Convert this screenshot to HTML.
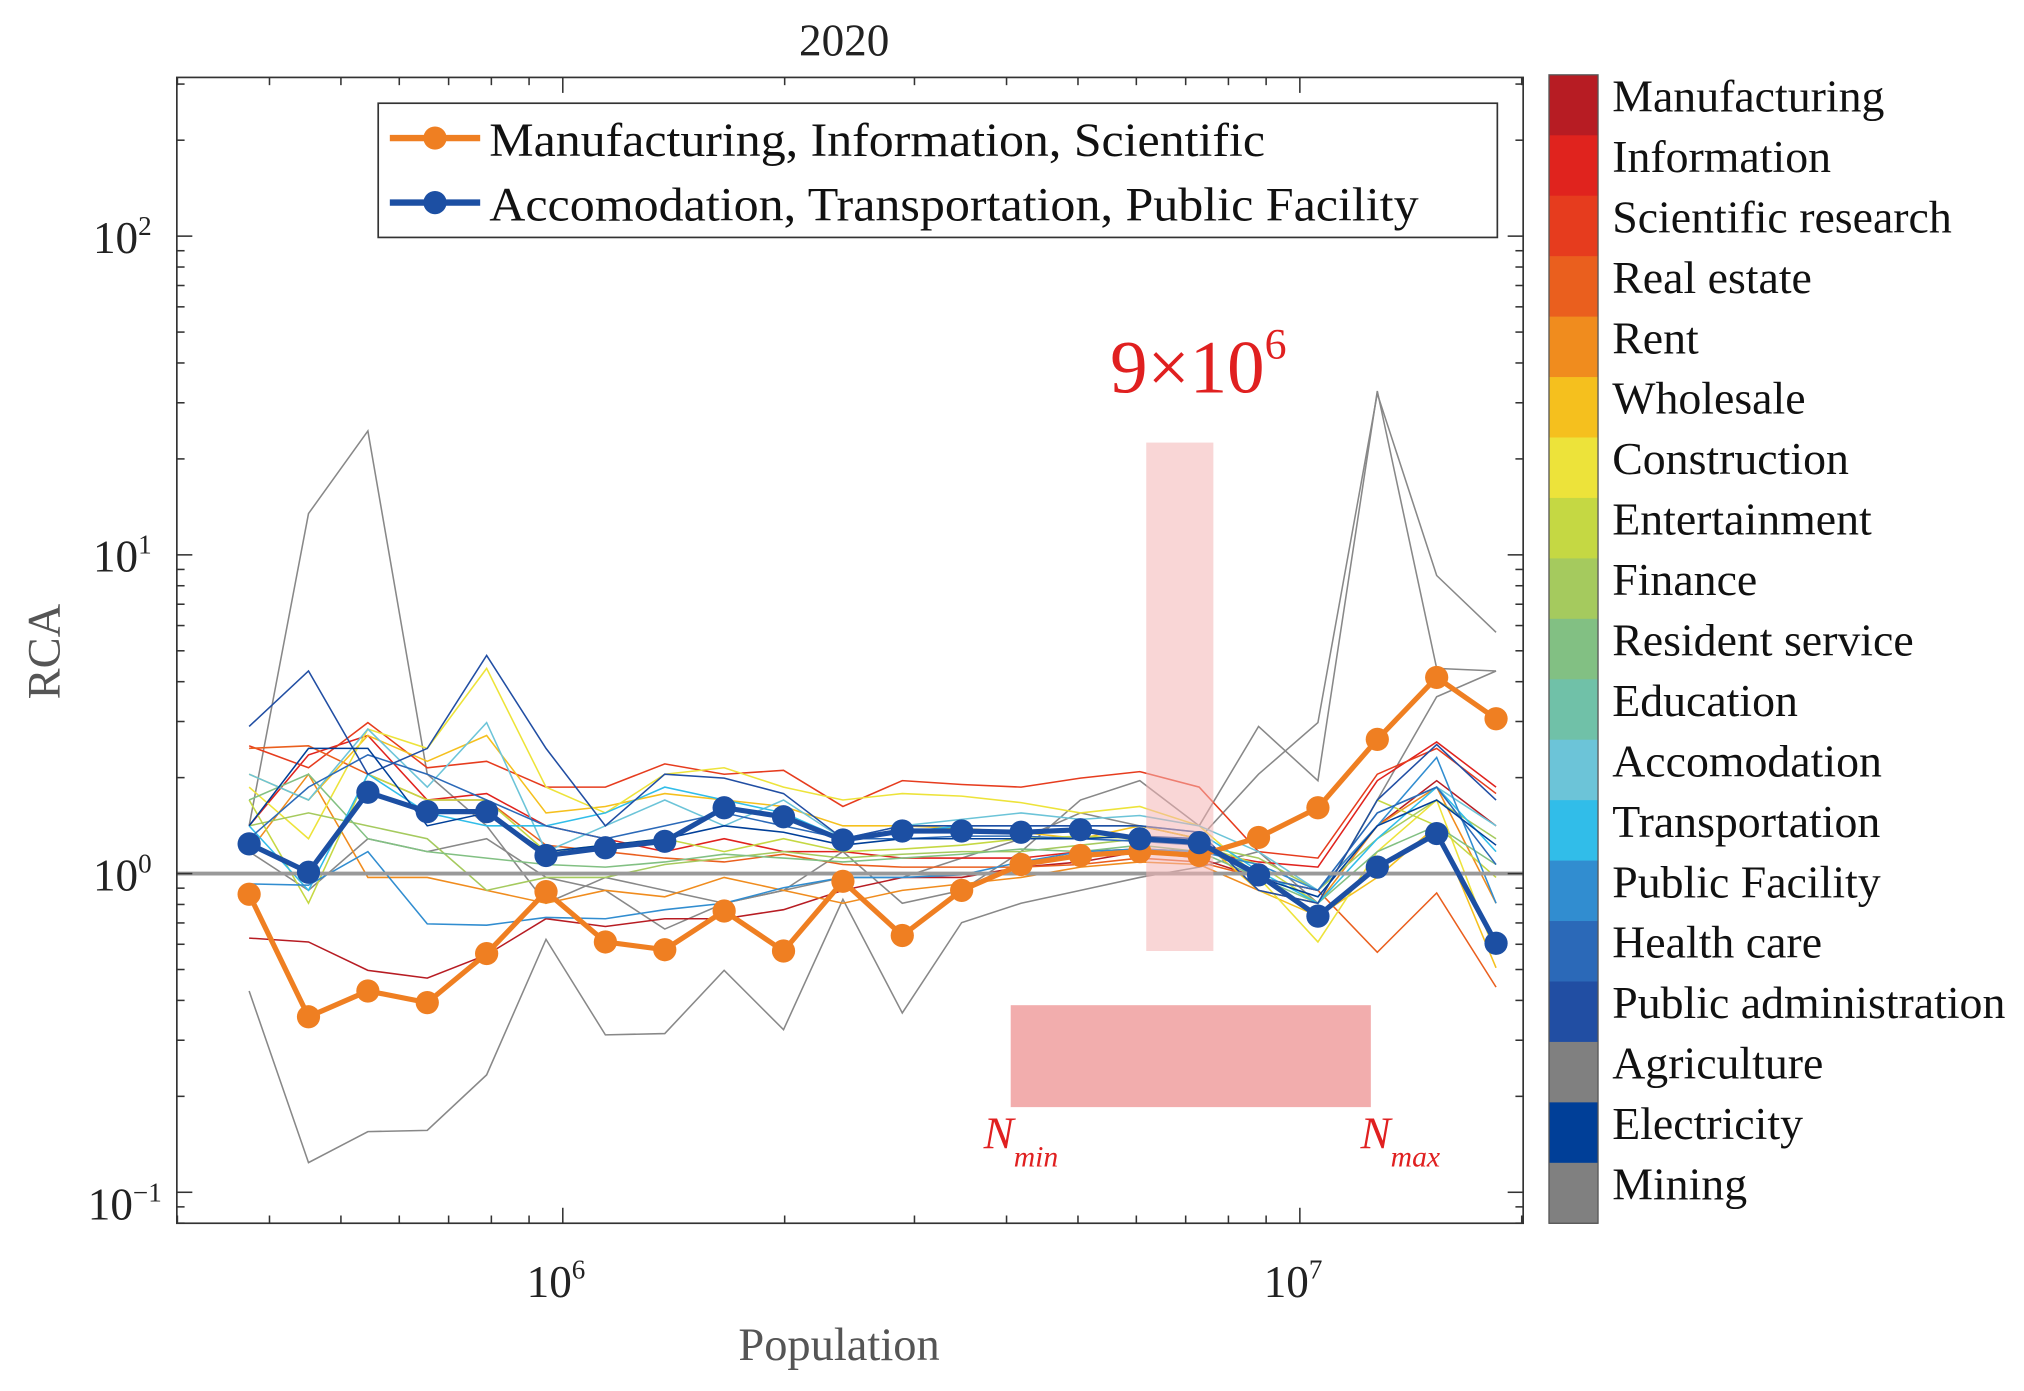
<!DOCTYPE html>
<html><head><meta charset="utf-8"><style>html,body{margin:0;padding:0;background:#fff}svg{display:block}</style></head>
<body>
<svg id="s" width="2024" height="1391" viewBox="0 0 1568 1078" preserveAspectRatio="none" xmlns="http://www.w3.org/2000/svg" font-family="Liberation Serif, serif">
<rect width="1568" height="1078" fill="#fff"/>
<g id="thin" fill="none" stroke-width="1.2"></g>
<line x1="137" y1="677" x2="1180" y2="677" stroke="#999" stroke-width="3"/>
<rect x="888" y="343" width="52" height="394" fill="#f4b4b4" opacity="0.55"/>
<rect x="783" y="779" width="279" height="79" fill="#f2adad"/>
<g id="thick"></g>
<rect x="137" y="60" width="1043" height="888" fill="none" stroke="#333" stroke-width="1.3"/>
<g id="ticks" stroke="#333" stroke-width="1.2"></g>
<g font-size="35" fill="#222">
<text x="654" y="43" text-anchor="middle" font-size="35">2020</text>
<text x="72" y="196">10<tspan font-size="21" dy="-14">2</tspan></text>
<text x="72" y="443">10<tspan font-size="21" dy="-14">1</tspan></text>
<text x="72" y="690">10<tspan font-size="21" dy="-14">0</tspan></text>
<text x="68" y="945">10<tspan font-size="21" dy="-14">−1</tspan></text>
<text x="408" y="1005">10<tspan font-size="21" dy="-14">6</tspan></text>
<text x="979" y="1005">10<tspan font-size="21" dy="-14">7</tspan></text>
<text x="650" y="1054" text-anchor="middle" fill="#555" font-size="36">Population</text>
<text transform="translate(46,505) rotate(-90)" text-anchor="middle" fill="#555" font-size="36">RCA</text>
</g>
<rect x="293" y="80" width="867" height="104" fill="#fff" stroke="#333" stroke-width="1.3"/>
<line x1="302" y1="107" x2="372" y2="107" stroke="#ef7f22" stroke-width="5"/><circle cx="337" cy="107" r="9" fill="#ef7f22"/>
<line x1="302" y1="157" x2="372" y2="157" stroke="#1c4fa3" stroke-width="5"/><circle cx="337" cy="157" r="9" fill="#1c4fa3"/>
<text x="379" y="121" font-size="36.5" fill="#111" textLength="601" lengthAdjust="spacingAndGlyphs">Manufacturing, Information, Scientific</text>
<text x="379" y="171" font-size="36.5" fill="#111" textLength="720" lengthAdjust="spacingAndGlyphs">Accomodation, Transportation, Public Facility</text>
<text x="860" y="304" font-size="58" fill="#e02020">9×10<tspan font-size="34" dy="-26">6</tspan></text>
<text x="762" y="890" font-size="35" fill="#e02020" font-style="italic">N<tspan font-size="23" dy="14">min</tspan></text>
<text x="1054" y="890" font-size="35" fill="#e02020" font-style="italic">N<tspan font-size="23" dy="14">max</tspan></text>
<g id="cbar"></g>
<rect x="1200" y="58" width="38" height="890" fill="none" stroke="#555" stroke-width="1"/>
</svg>
<script>
const NS="http://www.w3.org/2000/svg";
function el(p,t,a){const e=document.createElementNS(NS,t);for(const k in a)e.setAttribute(k,a[k]);p.appendChild(e);return e;}
const X=[];for(let i=0;i<22;i++)X.push(193+46*i);
function pts(Y){return Y.map((y,i)=>X[i]+","+y).join(" ");}
const thin=document.getElementById("thin");
const lines=[
["#888",[640,398,334,600,640,700,680,690,700,690,660,700,690,660,620,605,640,563,605,303,518,520]],
["#888",[768,901,877,876,833,728,802,801,752,798,697,785,715,700,690,680,672,660,700,620,540,520]],
["#888",[660,690,650,660,650,680,690,720,700,690,680,680,665,650,630,640,650,600,560,305,446,490]],
["#b71c23",[727,730,752,758,740,712,718,712,712,705,690,680,680,672,668,660,665,680,690,640,605,640]],
["#e0231e",[640,585,570,620,615,640,650,660,650,660,660,665,665,665,660,658,660,668,672,605,575,610]],
["#e63c1e",[578,595,560,595,590,610,610,592,600,597,625,605,608,610,603,598,610,660,665,600,580,615]],
["#ea5f1e",[580,578,600,620,620,655,660,665,668,662,670,672,672,672,670,665,668,680,690,738,692,765]],
["#f08c1e",[660,600,680,680,690,700,690,695,680,690,700,690,685,680,672,668,670,690,700,640,610,700]],
["#f5c01e",[600,620,570,590,570,630,625,615,620,625,640,640,642,645,650,640,650,690,710,680,640,750]],
["#ede33a",[610,650,565,580,518,610,630,600,595,610,620,615,617,622,630,625,640,680,730,660,620,740]],
["#c5d843",[620,700,600,620,620,660,655,650,660,650,660,658,655,650,648,650,655,670,700,620,640,680]],
["#a5ca5e",[640,630,640,650,690,680,680,670,665,660,665,662,660,660,655,650,655,665,690,650,620,650]],
["#82c083",[620,600,650,660,665,670,672,668,662,665,668,665,662,658,660,655,660,680,700,660,640,670]],
["#6cc4d8",[600,620,565,610,560,660,640,620,640,620,650,640,635,630,635,632,640,660,690,630,610,640]],
["#31bde9",[640,690,600,630,640,640,630,610,620,630,650,645,640,640,640,640,645,675,700,650,610,660]],
["#318dd0",[685,686,660,716,717,711,712,705,700,688,680,680,678,668,660,658,660,670,690,640,587,700]],
["#2b69b8",[650,610,585,600,620,640,650,640,630,640,650,650,648,648,650,652,655,680,690,630,610,670]],
["#214ea3",[563,520,600,580,508,580,640,600,603,615,650,640,640,640,640,640,645,690,700,620,577,620]],
["#003f98",[640,580,580,640,630,660,655,650,640,645,655,650,650,650,650,648,650,680,695,640,620,655]]];
lines.forEach(l=>el(thin,"polyline",{points:pts(l[1]),stroke:l[0]}));
const th=document.getElementById("thick");
const O=[693,788,768,777,739,691,730,736,706,737,683,725,690,670,663,660,663,649,626,573,525,557];
const B=[654,676,614,629,629,663,657,652,626,633,651,644,644,645,643,650,653,678,710,672,646,731];
[["#ef7f22",O],["#1c4fa3",B]].forEach(s=>{el(th,"polyline",{points:pts(s[1]),stroke:s[0],"stroke-width":4,fill:"none"});s[1].forEach((y,i)=>el(th,"circle",{cx:X[i],cy:y,r:9,fill:s[0]}));});
const tk=document.getElementById("ticks");
for(let d=-2;d<=2;d++){for(let m=1;m<10;m++){const y=677-247*(d+Math.log10(m));if(y<60||y>948)continue;const L=m==1?12:6;el(tk,"line",{x1:137,y1:y,x2:137+L,y2:y});el(tk,"line",{x1:1180,y1:y,x2:1180-L,y2:y});}}
for(let d=5;d<=7;d++){for(let m=1;m<10;m++){const x=436+571*(d-6+Math.log10(m));if(x<137||x>1180)continue;const L=m==1?12:6;el(tk,"line",{x1:x,y1:948,x2:x,y2:948-L});el(tk,"line",{x1:x,y1:60,x2:x,y2:60+L});}}
const cb=document.getElementById("cbar");
const C=[["#b71c23","Manufacturing"],["#e0231e","Information"],["#e63c1e","Scientific research"],["#ea5f1e","Real estate"],["#f08c1e","Rent"],["#f5c01e","Wholesale"],["#ede33a","Construction"],["#c5d843","Entertainment"],["#a5ca5e","Finance"],["#82c083","Resident service"],["#70c1a8","Education"],["#6cc4d8","Accomodation"],["#31bde9","Transportation"],["#318dd0","Public Facility"],["#2b69b8","Health care"],["#214ea3","Public administration"],["#808080","Agriculture"],["#003f98","Electricity"],["#808080","Mining"]];
const h=890/19;
C.forEach((c,i)=>{el(cb,"rect",{x:1200,y:58+i*h,width:38,height:h+0.5,fill:c[0]});const t=el(cb,"text",{x:1249,y:58+i*h+h/2+5,"font-size":35.5,fill:"#111"});t.textContent=c[1];});
</script>
</body></html>
